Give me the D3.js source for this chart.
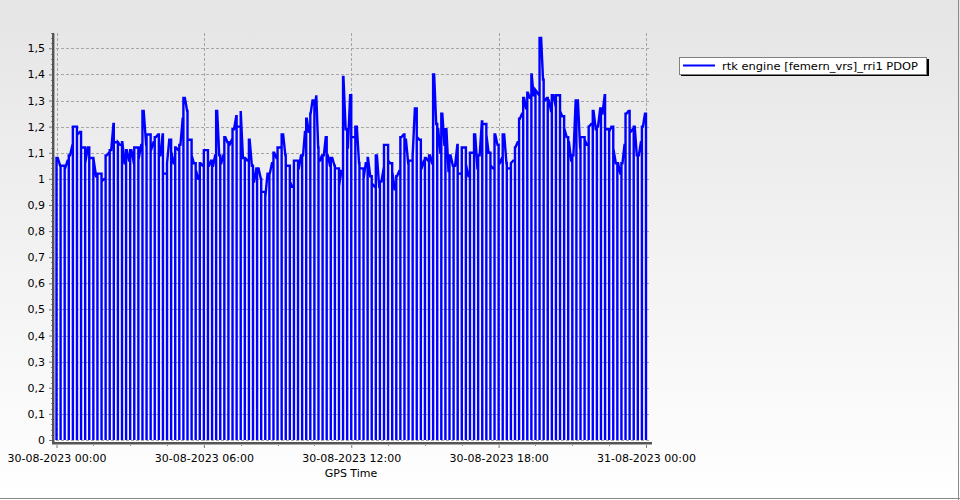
<!DOCTYPE html>
<html>
<head>
<meta charset="utf-8">
<script src="https://cdn.jsdelivr.net/npm/d3@7"></script>
<style>
  html, body { margin: 0; padding: 0; background: #fff; }
  svg { display: block; }
  text { font-family: "DejaVu Sans", "Liberation Sans", sans-serif; }
</style>
</head>
<body>
<svg id="chart" width="960" height="500"></svg>
<script>
// ---------------- DATA ----------------
const seriesName = "rtk engine [femern_vrs]_rri1 PDOP";
const xAxisTitle = "GPS Time";
const startDate = new Date(2023, 7, 30, 0, 0);   // 30-08-2023 00:00
const endDate = new Date(2023, 7, 31, 0, 0);     // 31-08-2023 00:00
const xTickHours = [0, 6, 12, 18, 24];
const yTicks = [0, 0.1, 0.2, 0.3, 0.4, 0.5, 0.6, 0.7, 0.8, 0.9, 1, 1.1, 1.2, 1.3, 1.4, 1.5];
const yTickLabels = ["0", "0,1", "0,2", "0,3", "0,4", "0,5", "0,6", "0,7", "0,8", "0,9", "1", "1,1", "1,2", "1,3", "1,4", "1,5"];
// dropouts to 0 occur every 10 minutes
const dropoutIntervalMinutes = 10;
// PDOP readings, grouped by hour of day
const pdopByHour = [
  [1.08, 1.05, 1.05, 1.04, 1.07, 1.09, 1.13, 1.20, 1.17, 1.18],
  [1.12, 1.06, 1.12, 1.08, 1.08, 1.01, 1.02, 0.99, 1.00],
  [1.09, 1.10, 1.11, 1.21, 1.14, 1.14, 1.13, 1.14, 1.06, 1.11, 1.07],
  [1.11, 1.06, 1.12, 1.08, 1.13, 1.26, 1.13, 1.17, 1.11, 1.14],
  [1.16, 1.17, 1.09, 1.17, 1.02, 1.06, 1.15, 1.10, 1.06, 1.12, 1.11],
  [1.13, 1.23, 1.31, 1.26, 1.15, 1.09, 1.06, 1.03, 1.00, 1.06, 1.05],
  [1.11, 1.11, 1.05, 1.07, 1.05, 1.09, 1.26, 1.09, 1.06, 1.09, 1.16, 1.14],
  [1.13, 1.15, 1.19, 1.24, 1.20, 1.26, 1.08, 1.08, 1.07, 1.15, 1.05],
  [0.99, 1.04, 1.04, 1.00, 0.95, 0.93, 1.02, 1.02, 1.06, 1.10, 1.08],
  [1.12, 1.12, 1.17, 1.09, 1.05, 0.99, 0.97, 1.07, 1.07, 1.04, 1.09],
  [1.09, 1.18, 1.23, 1.18, 1.25, 1.30, 1.26, 1.32, 1.12, 1.07, 1.09, 1.09, 1.16],
  [1.09, 1.05, 1.08, 1.05, 1.04, 0.97, 1.03, 1.39, 1.19, 1.12, 1.32],
  [1.16, 1.16, 1.20, 1.06, 1.04, 1.00, 1.06, 1.08, 1.01, 0.98, 0.97],
  [1.09, 0.97, 0.99, 1.04, 1.13, 1.07, 1.06, 1.02, 0.96, 1.01, 1.03],
  [1.16, 1.17, 1.15, 1.06, 1.07, 1.09, 1.27, 1.16, 1.15, 1.04, 1.07],
  [1.08, 1.07, 1.09, 1.06, 1.40, 1.21, 1.19, 1.10, 1.25, 1.13, 1.19, 1.03],
  [1.09, 1.05, 1.05, 1.13, 1.02, 1.12, 1.12, 1.05, 1.01, 1.10, 1.10],
  [1.17, 1.04, 1.09, 1.22, 1.21, 1.17, 1.10, 1.05, 1.04, 1.17, 1.13],
  [1.06, 1.08, 1.17, 1.06, 1.04, 1.06, 1.07, 1.12, 1.14, 1.23, 1.25],
  [1.31, 1.27, 1.33, 1.31, 1.40, 1.32, 1.34, 1.33, 1.32, 1.54, 1.38, 1.30, 1.31],
  [1.30, 1.26, 1.32, 1.28, 1.32, 1.26, 1.24, 1.19, 1.16, 1.14, 1.07],
  [1.09, 1.30, 1.30, 1.12, 1.16, 1.15, 1.13, 1.20, 1.21, 1.26, 1.19],
  [1.20, 1.27, 1.25, 1.32, 1.19, 1.18, 1.20, 1.11, 1.06, 1.06, 1.02],
  [1.06, 1.13, 1.25, 1.26, 1.18, 1.19, 1.20, 1.09, 1.09, 1.14, 1.20, 1.25]
];

// ---------------- BUILD SERIES ----------------
const MS_MIN = 60000;
const samples = [];
pdopByHour.forEach((arr, h) => {
  const n = arr.length;
  arr.forEach((v, j) => samples.push({ t: h * 60 + (j + 0.5) * 60 / n, v }));
});
const points = [];
let si = 0;
for (let td = 0; td <= 1440; td += dropoutIntervalMinutes) {
  while (si < samples.length && samples[si].t < td) { points.push(samples[si]); si++; }
  const prev = points.length ? points[points.length - 1].v : samples[0].v;
  const next = si < samples.length ? samples[si].v : prev;
  points.push({ t: td, v: prev }, { t: td, v: 0 }, { t: td, v: next });
}
while (si < samples.length) { points.push(samples[si]); si++; }
points.forEach(p => p.date = new Date(+startDate + p.t * MS_MIN));

// ---------------- DRAW ----------------
const svg = d3.select("#chart");
const W = 960, H = 500;
const defs = svg.append("defs");
const grad = defs.append("linearGradient").attr("id", "bg").attr("x1", 0).attr("y1", 0).attr("x2", 0).attr("y2", 1);
grad.append("stop").attr("offset", "0%").attr("stop-color", "#e5e5e5");
grad.append("stop").attr("offset", "100%").attr("stop-color", "#ffffff");
svg.append("rect").attr("width", W).attr("height", H).attr("fill", "url(#bg)");
// outer frame (right and bottom)
svg.append("line").attr("x1", 0).attr("x2", W).attr("y1", H - 1.5).attr("y2", H - 1.5).attr("stroke", "#8a8a8a").attr("stroke-width", 1);
svg.append("line").attr("x1", W - 1.5).attr("x2", W - 1.5).attr("y1", 0).attr("y2", H).attr("stroke", "#8a8a8a").attr("stroke-width", 1);

const plot = { left: 54, top: 33, right: 649, bottom: 443 };
const x = d3.scaleTime().domain([startDate, endDate]).range([56.5, 646]);
const y = d3.scaleLinear().domain([0, 1.5]).range([440, 48.3]);

// gridlines
const grid = svg.append("g").attr("stroke", "#a6a6a6").attr("stroke-width", 1).attr("stroke-dasharray", "3,2");
yTicks.forEach(v => {
  const yy = Math.round(y(v)) + 0.5;
  grid.append("line").attr("x1", plot.left + 2).attr("x2", plot.right).attr("y1", yy).attr("y2", yy);
});
xTickHours.forEach(h => {
  const xx = Math.round(x(new Date(+startDate + h * 3600000))) + 0.5;
  grid.append("line").attr("x1", xx).attr("x2", xx).attr("y1", plot.top).attr("y2", plot.bottom - 2);
});

// series
const line = d3.line().x(d => x(d.date)).y(d => y(d.v));
svg.append("path").datum(points)
  .attr("d", line)
  .attr("fill", "none")
  .attr("stroke", "#0000ff")
  .attr("stroke-width", 2.4)
  .attr("stroke-linejoin", "miter");

// y axis
const yAxis = d3.axisLeft(y).tickValues(yTicks).tickSize(5).tickPadding(4)
  .tickFormat((d, i) => yTickLabels[i]);
const gy = svg.append("g").attr("transform", `translate(${plot.left},0)`).call(yAxis);
gy.select(".domain").remove();
gy.selectAll(".tick line").attr("stroke", "#777");
gy.selectAll(".tick text").attr("font-size", 11).attr("fill", "#000").attr("font-family", "DejaVu Sans");
// minor y ticks
const yMinor = d3.range(0, 1.5601, 0.02).filter(v => Math.abs(v * 10 - Math.round(v * 10)) > 1e-6);
svg.append("g").selectAll("line").data(yMinor).join("line")
  .attr("x1", plot.left - 3).attr("x2", plot.left)
  .attr("y1", d => Math.round(y(d)) + 0.5).attr("y2", d => Math.round(y(d)) + 0.5)
  .attr("stroke", "#888");

// x axis
const xTickDates = xTickHours.map(h => new Date(+startDate + h * 3600000));
const xAxis = d3.axisBottom(x).tickValues(xTickDates).tickSize(5).tickPadding(6)
  .tickFormat(d3.timeFormat("%d-%m-%Y %H:%M"));
const gx = svg.append("g").attr("transform", `translate(0,${plot.bottom})`).call(xAxis);
gx.select(".domain").remove();
gx.selectAll(".tick line").attr("stroke", "#777");
gx.selectAll(".tick text").attr("font-size", 11).attr("fill", "#000").attr("font-family", "DejaVu Sans");
// minor x ticks (every 1.5h)
const xMinor = d3.range(1.5, 24, 1.5).filter(h => h % 6 !== 0).map(h => new Date(+startDate + h * 3600000));
svg.append("g").selectAll("line").data(xMinor).join("line")
  .attr("x1", d => Math.round(x(d)) + 0.5).attr("x2", d => Math.round(x(d)) + 0.5)
  .attr("y1", plot.bottom).attr("y2", plot.bottom + 3)
  .attr("stroke", "#888");

// axis lines
svg.append("line").attr("x1", plot.left - 1).attr("x2", plot.left - 1).attr("y1", plot.top).attr("y2", plot.bottom + 1)
  .attr("stroke", "#555").attr("stroke-width", 2);
svg.append("line").attr("x1", plot.left + 0.5).attr("x2", plot.left + 0.5).attr("y1", plot.top).attr("y2", plot.bottom)
  .attr("stroke", "#aaa").attr("stroke-width", 1);
svg.append("line").attr("x1", plot.left - 2).attr("x2", plot.right + 3).attr("y1", plot.bottom).attr("y2", plot.bottom)
  .attr("stroke", "#555").attr("stroke-width", 2);
svg.append("line").attr("x1", plot.left - 2).attr("x2", plot.right + 3).attr("y1", plot.bottom + 1.5).attr("y2", plot.bottom + 1.5)
  .attr("stroke", "#aaa").attr("stroke-width", 1);

// axis title
svg.append("text").attr("x", 351).attr("y", 477).attr("text-anchor", "middle")
  .attr("font-size", 11).attr("fill", "#000").text(xAxisTitle);

// legend
const lg = svg.append("g");
lg.append("rect").attr("x", 681).attr("y", 59).attr("width", 248).attr("height", 17).attr("fill", "#000");
lg.append("rect").attr("x", 679.5).attr("y", 57.5).attr("width", 247).attr("height", 17).attr("fill", "#fff").attr("stroke", "#808080");
lg.append("line").attr("x1", 683).attr("x2", 715).attr("y1", 65.5).attr("y2", 65.5).attr("stroke", "#0000ff").attr("stroke-width", 2);
lg.append("text").attr("x", 722).attr("y", 70).attr("font-size", 11).attr("fill", "#000")
  .attr("font-family", "Liberation Sans").attr("textLength", 196).attr("lengthAdjust", "spacingAndGlyphs").text(seriesName);
</script>
</body>
</html>
